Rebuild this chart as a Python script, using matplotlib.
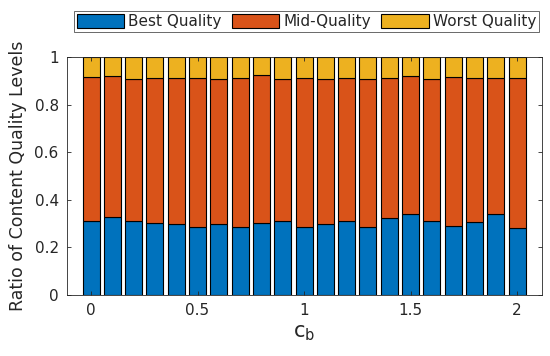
import numpy as np
import matplotlib
matplotlib.use('Agg')
import matplotlib.pyplot as plt

# c_b values and quality ratios
cb = [0.0, 0.1, 0.2, 0.3, 0.4, 0.5, 0.6, 0.7, 0.8, 0.9, 1.0,
      1.1, 1.2, 1.3, 1.4, 1.5, 1.6, 1.7, 1.8, 1.9, 2.0]
best = [0.312, 0.326, 0.312, 0.302, 0.297, 0.287, 0.297, 0.287, 0.302, 0.312, 0.287,
        0.297, 0.312, 0.287, 0.322, 0.340, 0.312, 0.291, 0.308, 0.340, 0.280]
best_mid = [0.917, 0.919, 0.908, 0.912, 0.912, 0.912, 0.908, 0.912, 0.923, 0.908, 0.912,
            0.909, 0.912, 0.908, 0.912, 0.919, 0.908, 0.916, 0.912, 0.912, 0.912]
mid = [t - b for t, b in zip(best_mid, best)]
worst = [1 - t for t in best_mid]

labels = ['Best Quality', 'Mid-Quality', 'Worst Quality']
colors = ['#0072BD', '#D95319', '#EDB120']
grey = '#262626'

plt.rcParams['font.family'] = ['DejaVu Sans']

fig = plt.figure(figsize=(5.5, 3.56), dpi=100)
axe = fig.add_axes([0.1218, 0.1713, 0.8636, 0.6685])

w = 0.08
b1 = axe.bar(cb, best, width=w, color=colors[0], edgecolor='black', linewidth=0.8)
b2 = axe.bar(cb, mid, width=w, bottom=best, color=colors[1], edgecolor='black', linewidth=0.8)
b3 = axe.bar(cb, worst, width=w, bottom=best_mid, color=colors[2], edgecolor='black', linewidth=0.8)

axe.set_xlim(-0.113, 2.117)
axe.set_ylim(0, 1)
axe.set_xticks([0, 0.5, 1, 1.5, 2])
axe.set_xticklabels(['0', '0.5', '1', '1.5', '2'])
axe.set_yticks([0, 0.2, 0.4, 0.6, 0.8, 1])
axe.set_yticklabels(['0', '0.2', '0.4', '0.6', '0.8', '1'])
axe.tick_params(direction='in', top=True, right=True, length=3, width=0.6,
                colors=grey, labelsize=11, pad=6)
for s in axe.spines.values():
    s.set_color(grey)
    s.set_linewidth(0.6)

axe.set_ylabel('Ratio of Content Quality Levels', fontsize=12.5, color=grey, labelpad=5)
axe.set_xlabel('c$_\\mathregular{b}$', fontsize=15, color=grey, labelpad=3)

leg = fig.legend([b1, b2, b3], labels, loc='center', bbox_to_anchor=(0.557, 0.9395),
                 ncol=3, fontsize=11, frameon=True, fancybox=False, edgecolor=grey,
                 handlelength=3.1, handleheight=1.0, columnspacing=0.7,
                 handletextpad=0.25, borderpad=0.2, borderaxespad=0)
leg.get_frame().set_linewidth(0.6)
for t in leg.get_texts():
    t.set_color(grey)

fig.savefig('out.png', dpi=100)
